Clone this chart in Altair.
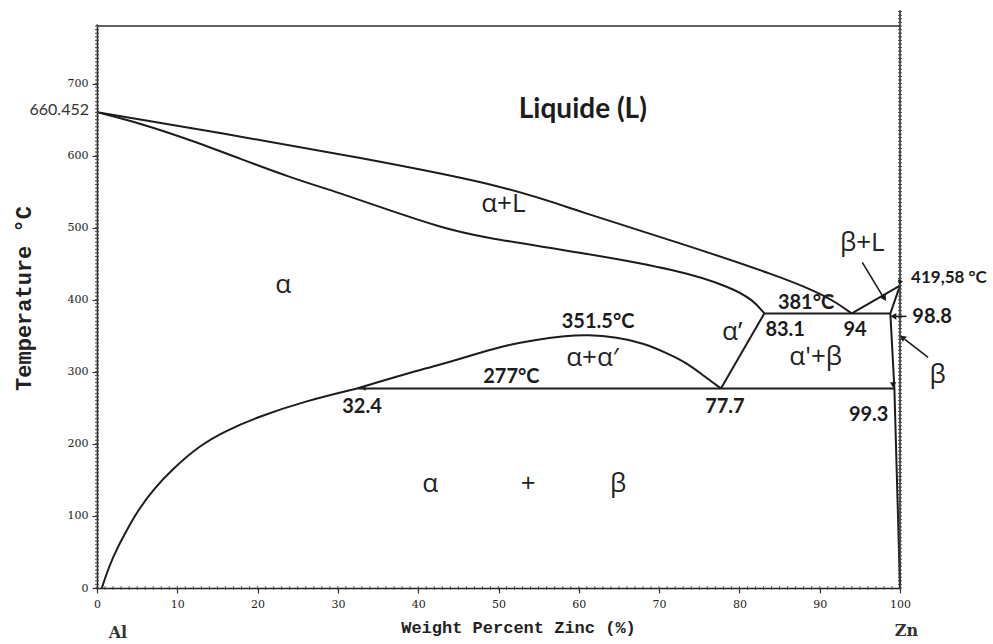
import altair as alt
import pandas as pd

# ---------------- data ----------------
liq_x = [0, 15.7, 32.4, 51.4, 60.1, 72.6, 85.1, 89.2, 91.7, 94.0]
liq_T = [660.452, 631, 598, 557, 522, 479, 432, 413, 399, 381]

sol_x = [0, 5.4, 11.6, 17.8, 24.0, 30.3, 36.5, 42.7, 47.7, 60.1, 72.6, 78.8, 81.7, 83.1]
sol_T = [660.452, 645, 622, 596, 570, 548, 524, 501, 487, 466, 441, 418, 400, 381]

solv_x = [0.6, 1.5, 2.5, 3.7, 5.0, 7.0, 9.5, 12.8, 16.0, 19.9, 26.1, 32.4]
solv_T = [0, 30, 55, 80, 106, 137, 166, 198, 218, 237, 260, 277]

gap_x = [32.4, 37.7, 41.8, 46.1, 50.2, 54.3, 58.5, 61.0, 64.8, 68.0, 71.0, 73.5, 75.6, 77.7]
gap_T = [277, 295, 307, 321, 335, 344, 350, 351.5, 348, 340, 326, 312, 294, 277]

# straight boundaries
seg_names = ["alpha_prime", "eut_277", "eut_381", "beta_liq", "beta_sol"]
seg_x = [[77.7, 83.1], [32.4, 99.3], [83.1, 98.8], [94.0, 100.0], [100.0, 98.8, 99.3, 99.7, 100.0]]
seg_T = [[277, 381], [277, 277], [381, 381], [381, 419.58], [419.58, 381, 277, 120, 0]]

# tick values
x_major = list(range(0, 101, 10))
x_minor = list(range(0, 101, 1))
y_major = list(range(0, 701, 100))
y_minor = list(range(0, 781, 5))
r_minor = list(range(0, 801, 5))

# text annotations (label, wt% Zn, temperature)
greek_txt = ["α+L", "α", "α+α′", "α’", "α'+β", "β+L", "β", "α", "+", "β"]
greek_x = [50.6, 23.2, 61.7, 79.1, 89.5, 95.3, 104.7, 41.5, 53.7, 64.9]
greek_T = [533, 420, 319, 355, 320, 479, 295, 144, 144, 144]

num_txt = ["351.5°C", "277°C", "381°C", "83.1", "94", "98.8", "99.3", "32.4", "77.7"]
num_x = [62.4, 51.6, 88.3, 85.7, 94.4, 104.0, 96.1, 33.0, 78.2]
num_T = [369, 293, 395, 358, 358, 376, 240, 251, 251]

title_txt = ["Liquide (L)"]
title_x = [60.5]
title_T = [663]

small_txt = ["419,58 °C"]
small_x = [106.1]
small_T = [430]

melt_txt = ["660.452"]
melt_x = [0]
melt_T = [664]

elem_txt = ["Al", "Zn"]
elem_x = [2.6, 100.8]
elem_T = [-63, -60]

# arrows: tail -> tip
arrow_id = ["bL", "beta", "r988"]
arrow_x0 = [95.3, 103.5, 100.8]
arrow_T0 = [452, 320, 377]
arrow_x1 = [97.9, 100.6, 99.4]
arrow_T1 = [404, 345, 377]

head_x = [98.0, 100.4, 99.3, 99.15, 100.0, 33.3]
head_T = [403, 347, 377, 283, 425, 277]
head_angle = [147, 306, 270, 180, 200, 270]
head_size = [45, 45, 45, 40, 30, 20]

# ---------------- build tables ----------------
def curve(name, xs, ts):
    return pd.DataFrame({"curve": name, "x": xs, "T": ts, "o": range(len(xs))})

smooth_df = pd.concat([
    curve("liquidus", liq_x, liq_T),
    curve("solidus", sol_x, sol_T),
    curve("solvus", solv_x, solv_T),
    curve("gap", gap_x, gap_T),
])
seg_df = pd.concat([curve(n, xs, ts) for n, xs, ts in zip(seg_names, seg_x, seg_T)])

arrow_df = pd.concat([
    curve(a, [x0, x1], [t0, t1])
    for a, x0, t0, x1, t1 in zip(arrow_id, arrow_x0, arrow_T0, arrow_x1, arrow_T1)
])
head_df = pd.DataFrame({"x": head_x, "T": head_T, "a": head_angle, "s": head_size})

def tdf(txt, xs, ts):
    return pd.DataFrame({"t": txt, "x": xs, "T": ts})

INK = "#1c1c1c"
xs = alt.Scale(domain=[0, 100], nice=False, zero=False)
ys = alt.Scale(domain=[0, 780], nice=False, zero=False)

x_axis = alt.Axis(
    values=x_major, tickSize=5,
    tickColor="#333", tickWidth=1.2, domainColor="#222", domainWidth=1.6,
    grid=False, labelFlush=False,
    labelFont="DejaVu Serif", labelFontSize=11, labelColor="#222", labelPadding=5,
    title="Weight Percent Zinc (%)", titleFont="Liberation Mono", titleFontSize=17,
    titleFontWeight="bold", titleColor="#222", titlePadding=10, titleX=421,
)
y_axis = alt.Axis(
    values=y_major, tickSize=5,
    tickColor="#333", tickWidth=1.2, domainColor="#222", domainWidth=1.6,
    grid=False, labelFlush=False,
    labelFont="DejaVu Serif", labelFontSize=11, labelColor="#222", labelPadding=4,
    title="Temperature °C", titleFont="Liberation Mono", titleFontSize=22,
    titleFontWeight="bold", titleColor="#222", titlePadding=32, titleY=272,
)

X = alt.X("x:Q", scale=xs, axis=x_axis)
Y = alt.Y("T:Q", scale=ys, axis=y_axis)
Xn = alt.X("x:Q", scale=xs)
Yn = alt.Y("T:Q", scale=ys)

smooth = alt.Chart(smooth_df).mark_line(color=INK, strokeWidth=2, interpolate="basis").encode(
    x=X, y=Y, detail="curve:N", order="o:Q")
segs = alt.Chart(seg_df).mark_line(color=INK, strokeWidth=2).encode(
    x=Xn, y=Yn, detail="curve:N", order="o:Q")
arrows = alt.Chart(arrow_df).mark_line(color=INK, strokeWidth=1.6).encode(
    x=Xn, y=Yn, detail="curve:N", order="o:Q")
heads = alt.Chart(head_df).mark_point(shape="triangle", filled=True, color=INK, opacity=1).encode(
    x=Xn, y=Yn, angle=alt.Angle("a:Q", scale=None), size=alt.Size("s:Q", scale=None))

# frame: top line, right axis
frame_df = pd.DataFrame({"x": [0, 100], "T": [780, 780], "curve": "top", "o": [0, 1]})
frame_df = pd.concat([frame_df, pd.DataFrame({"x": [100, 100], "T": [0, 802], "curve": "right", "o": [0, 1]}),
                      pd.DataFrame({"x": [0, 0], "T": [780, 782], "curve": "lefttop", "o": [0, 1]})])
frame = alt.Chart(frame_df).mark_line(color="#333", strokeWidth=1.6).encode(
    x=Xn, y=Yn, detail="curve:N", order="o:Q")

# minor ticks (dotted look of the axes)
rticks = alt.Chart(pd.DataFrame({"T": r_minor})).mark_rule(color="#444", strokeWidth=1).encode(
    x=alt.datum(99.75, scale=xs), x2=alt.datum(100.25), y=Yn)
lticks = alt.Chart(pd.DataFrame({"T": y_minor})).mark_rule(color="#444", strokeWidth=1).encode(
    x=alt.datum(-0.25, scale=xs), x2=alt.datum(0.25), y=Yn)
bticks = alt.Chart(pd.DataFrame({"x": x_minor})).mark_rule(color="#444", strokeWidth=1).encode(
    x=Xn, y=alt.datum(-2.5, scale=ys), y2=alt.datum(2.5))

def text_layer(df, font, size, weight, color=INK, align="center", dx=0):
    return alt.Chart(df).mark_text(font=font, fontSize=size, fontWeight=weight, color=color,
                                   align=align, baseline="middle", dx=dx).encode(
        x=Xn, y=Yn, text="t:N")

greek = text_layer(tdf(greek_txt, greek_x, greek_T), "Open Sans", 26, "normal", "#222")
nums = text_layer(tdf(num_txt, num_x, num_T), "Lato", 20, "bold")
titl = text_layer(tdf(title_txt, title_x, title_T), "Lato", 28, "bold")
small = text_layer(tdf(small_txt, small_x, small_T), "Lato", 17, "bold")
melt = text_layer(tdf(melt_txt, melt_x, melt_T), "Lato", 16, "normal", "#333", align="right", dx=-8)
elem = text_layer(tdf(elem_txt, elem_x, elem_T), "DejaVu Serif", 16, "bold", "#333")

chart = alt.layer(
    smooth, segs, frame, rticks, lticks, bticks, arrows, heads, greek, nums, titl, small, melt, elem
).properties(
    width=803, height=562,
    autosize=alt.AutoSizeParams(type="none"),
    padding={"left": 97, "top": 26, "right": 93, "bottom": 56},
).configure_view(stroke=None).configure(background="white")

chart.save("out.html", embed_options={"renderer": "svg", "actions": False})
